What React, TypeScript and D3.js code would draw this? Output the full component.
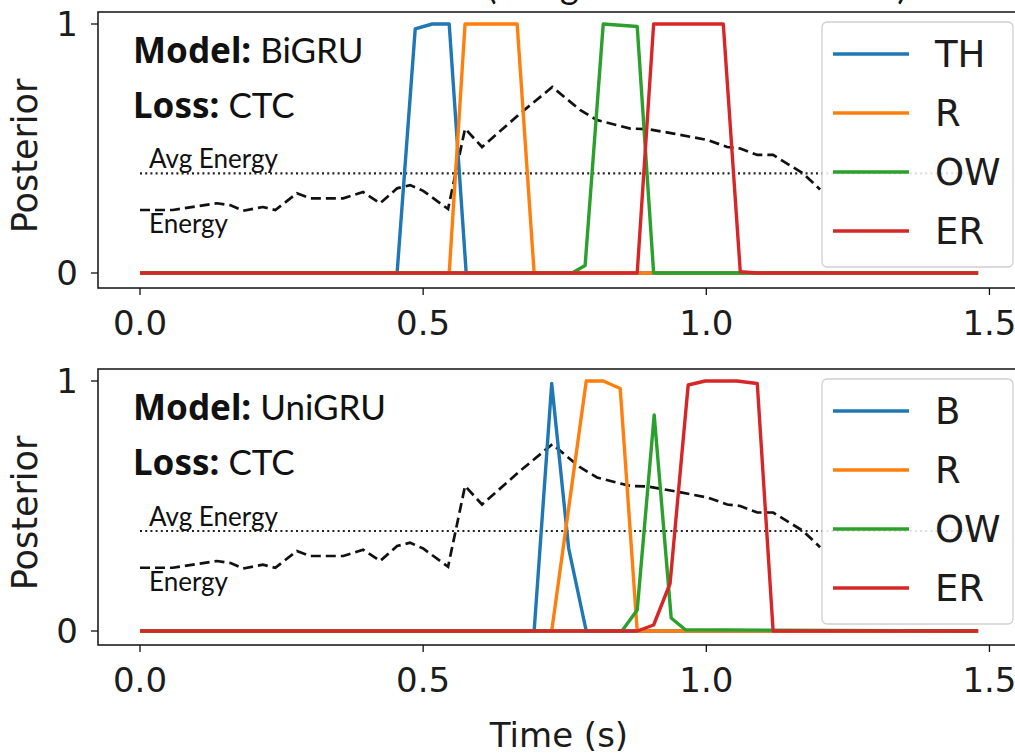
import React from "react";
import * as d3 from "d3";

// ---------- data ----------
const xTicks = [0.0, 0.5, 1.0, 1.5];
const yTicks = [0, 1];
const avgEnergy = 0.4;

const energyT = [0, 0.058, 0.136, 0.16, 0.182, 0.217, 0.239, 0.277, 0.3, 0.359, 0.394, 0.424, 0.454, 0.477, 0.5, 0.544, 0.574, 0.604, 0.671, 0.728, 0.777, 0.807, 0.866, 0.896, 0.942, 1.002, 1.037, 1.06, 1.09, 1.118, 1.171, 1.201];
const energyV = [0.253, 0.253, 0.28, 0.272, 0.25, 0.265, 0.253, 0.32, 0.3, 0.3, 0.325, 0.28, 0.34, 0.353, 0.33, 0.257, 0.58, 0.506, 0.64, 0.747, 0.655, 0.614, 0.58, 0.578, 0.56, 0.534, 0.506, 0.5, 0.474, 0.474, 0.4, 0.335];

// BiGRU posteriors
const biLabels = ["TH", "R", "OW", "ER"];
const biTH_t = [0, 0.454, 0.486, 0.516, 0.546, 0.576, 1.48];
const biTH_v = [0, 0, 0.98, 1.0, 1.0, 0, 0];
const biR_t = [0, 0.546, 0.574, 0.666, 0.696, 1.48];
const biR_v = [0, 0, 1.0, 1.0, 0, 0];
const biOW_t = [0, 0.763, 0.786, 0.818, 0.878, 0.907, 1.48];
const biOW_v = [0, 0, 0.03, 1.0, 0.99, 0, 0];
const biER_t = [0, 0.878, 0.907, 1.03, 1.06, 1.09, 1.48];
const biER_v = [0, 0, 1.0, 1.0, 0.005, 0, 0];

// UniGRU posteriors
const uniLabels = ["B", "R", "OW", "ER"];
const uniB_t = [0, 0.696, 0.727, 0.757, 0.788, 1.48];
const uniB_v = [0, 0, 0.99, 0.33, 0, 0];
const uniR_t = [0, 0.727, 0.788, 0.818, 0.848, 0.878, 1.48];
const uniR_v = [0, 0, 1.0, 1.0, 0.97, 0, 0];
const uniOW_t = [0, 0.851, 0.878, 0.908, 0.938, 0.963, 1.48];
const uniOW_v = [0, 0, 0.084, 0.864, 0.052, 0.005, 0];
const uniER_t = [0, 0.878, 0.907, 0.936, 0.968, 0.998, 1.054, 1.09, 1.118, 1.48];
const uniER_v = [0, 0, 0.024, 0.19, 0.984, 1.0, 1.0, 0.99, 0, 0];

const colors = ["#1f77b4", "#ff7f0e", "#2ca02c", "#d62728"];

const zip = (t: number[], v: number[]) => t.map((x, i) => [x, v[i]] as [number, number]);

const panels = [
  {
    model: "BiGRU",
    loss: "CTC",
    top: 12,
    bottom: 288,
    y0: 273,
    y1: 24,
    labels: biLabels,
    series: [zip(biTH_t, biTH_v), zip(biR_t, biR_v), zip(biOW_t, biOW_v), zip(biER_t, biER_v)],
  },
  {
    model: "UniGRU",
    loss: "CTC",
    top: 369,
    bottom: 645,
    y0: 631,
    y1: 381,
    labels: uniLabels,
    series: [zip(uniB_t, uniB_v), zip(uniR_t, uniR_v), zip(uniOW_t, uniOW_v), zip(uniER_t, uniER_v)],
  },
];

const LEFT = 98;
const RIGHT = 1020;
const tickFont = "'DejaVu Sans', sans-serif";
const ink = "#1c1c1c";

function Panel({ p, idx }: { p: (typeof panels)[number]; idx: number }) {
  const x = d3.scaleLinear().domain([0, 1]).range([140, 706.3]);
  const y = d3.scaleLinear().domain([0, 1]).range([p.y0, p.y1]);
  const line = d3
    .line<[number, number]>()
    .x((d) => x(d[0]))
    .y((d) => y(d[1]));
  const energy = zip(energyT, energyV);
  const avg: [number, number][] = [
    [0, avgEnergy],
    [1.48, avgEnergy],
  ];
  const clipId = `clip${idx}`;
  const legTop = p.top + 10;
  const legRowY = (i: number) => legTop + 32 + i * 59;
  return (
    <g>
      <defs>
        <clipPath id={clipId}>
          <rect x={LEFT} y={p.top} width={RIGHT - LEFT} height={p.bottom - p.top} />
        </clipPath>
      </defs>
      <g clipPath={`url(#${clipId})`}>
        <path d={line(avg) || ""} fill="none" stroke="#222" strokeWidth={2.2} strokeDasharray="2,3.2" />
        <path d={line(energy) || ""} fill="none" stroke="#111" strokeWidth={2.7} strokeDasharray="10,5" />
        {p.series.map((s, i) => (
          <path key={i} d={line(s) || ""} fill="none" stroke={colors[i]} strokeWidth={3.4} strokeLinejoin="round" />
        ))}
      </g>
      {/* annotations */}
      <text x={133} y={p.top + 51} fontSize={35} fill="#111">
        <tspan fontFamily="'Noto Sans', sans-serif" fontWeight="bold">Model:</tspan>
        <tspan fontFamily="Lato, sans-serif" dx={9}>{p.model}</tspan>
      </text>
      <text x={133} y={p.top + 106} fontSize={35} fill="#111">
        <tspan fontFamily="'Noto Sans', sans-serif" fontWeight="bold">Loss:</tspan>
        <tspan fontFamily="Lato, sans-serif" dx={9}>{p.loss}</tspan>
      </text>
      <text x={149} y={y(avgEnergy) - 5} fontSize={26} fontFamily="Lato, sans-serif" fill="#111">
        Avg Energy
      </text>
      <text x={149} y={y(avgEnergy) + 60} fontSize={26} fontFamily="Lato, sans-serif" fill="#111">
        Energy
      </text>
      {/* spines */}
      <rect x={LEFT} y={p.top} width={RIGHT - LEFT} height={p.bottom - p.top} fill="none" stroke="#111" strokeWidth={1.5} />
      {/* y ticks */}
      {yTicks.map((t) => (
        <g key={t}>
          <line x1={LEFT - 7} x2={LEFT} y1={y(t)} y2={y(t)} stroke="#111" strokeWidth={1.3} />
          <text x={LEFT - 20} y={y(t)} dy="0.36em" textAnchor="end" fontSize={34} fontFamily={tickFont} fill={ink}>
            {t}
          </text>
        </g>
      ))}
      {/* x ticks */}
      {xTicks.map((t) => (
        <g key={t}>
          <line x1={x(t)} x2={x(t)} y1={p.bottom} y2={p.bottom + 7} stroke="#111" strokeWidth={1.3} />
          <text x={x(t)} y={p.bottom + 47} textAnchor="middle" fontSize={34} fontFamily={tickFont} fill={ink}>
            {t.toFixed(1)}
          </text>
        </g>
      ))}
      <text
        transform={`translate(37,${(p.top + p.bottom) / 2 + 6}) rotate(-90)`}
        textAnchor="middle"
        fontSize={35}
        fontFamily={tickFont}
        fill={ink}
      >
        Posterior
      </text>
      {/* legend */}
      <rect x={822} y={legTop} width={191} height={245} rx={5} fill="#fff" fillOpacity={0.85} stroke="#d0d0d0" strokeWidth={1.3} />
      {p.labels.map((lab, i) => (
        <g key={lab + i}>
          <line x1={833} x2={909} y1={legRowY(i)} y2={legRowY(i)} stroke={colors[i]} strokeWidth={3.4} />
          <text x={935} y={legRowY(i)} dy="0.36em" fontSize={37} fontFamily={tickFont} fill={ink}>
            {lab}
          </text>
        </g>
      ))}
    </g>
  );
}

export default function App() {
  return (
    <svg
      width={1015}
      height={755}
      style={{ position: "absolute", left: 0, top: 0, background: "#fff" }}
    >
      <rect x={0} y={0} width={1015} height={755} fill="#fff" />
      <text x={487} y={-1} fontSize={36} fontFamily="Lato, sans-serif" fill="#111" textLength={420} lengthAdjust="spacing">
        (Averaged over the whole utterance)
      </text>
      {panels.map((p, i) => (
        <Panel key={i} p={p} idx={i} />
      ))}
      <text x={559} y={747} textAnchor="middle" fontSize={34} fontFamily={tickFont} fill={ink}>
        Time (s)
      </text>
    </svg>
  );
}
